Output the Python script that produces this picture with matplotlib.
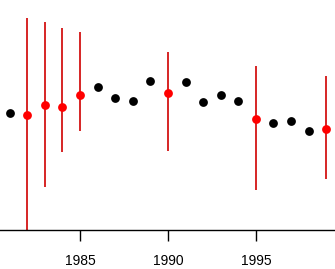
import matplotlib
matplotlib.use("Agg")
import matplotlib.pyplot as plt

# years with point estimates only
years_black = [1981, 1986, 1987, 1988, 1989, 1991, 1992, 1993, 1994, 1996, 1997, 1998]
vals_black = [116.7, 142.7, 131.7, 129, 148.7, 148.3, 127.7, 135.3, 129, 107.3, 109.3, 99.3]

# years with intervals
years_red = [1982, 1983, 1984, 1985, 1990, 1995, 1999]
vals_red = [115, 125.3, 123, 134.7, 137.3, 111.3, 101.3]
lower_red = [-20, 43, 78, 99, 79, 40, 51.3]
upper_red = [212, 208, 202, 198, 178, 164, 154]

tick_years = [1985, 1990, 1995]

plt.rcParams['font.family'] = ['Liberation Sans', 'DejaVu Sans']

fig = plt.figure(figsize=(3.35, 2.69), dpi=100)
ax = fig.add_axes([0, 39 / 269, 1, 230 / 269])

ax.vlines(years_red, lower_red, upper_red, color='#d00000', linewidth=1.2, zorder=1)
ax.scatter(years_black, vals_black, s=40, color='black', zorder=3, linewidths=0)
ax.scatter(years_red, vals_red, s=40, color='#ff0000', zorder=3, linewidths=0)

ax.set_xlim(1980.45, 1999.5)
ax.set_ylim(0, 230)

for s in ['top', 'left', 'right']:
    ax.spines[s].set_visible(False)
ax.spines['bottom'].set_linewidth(1.0)
ax.set_yticks([])
ax.set_xticks(tick_years)
ax.set_xticklabels([str(y) for y in tick_years], fontsize=10)
ax.tick_params(axis='x', direction='out', length=8, width=1.0, pad=9)

fig.savefig('out.png', dpi=100)
